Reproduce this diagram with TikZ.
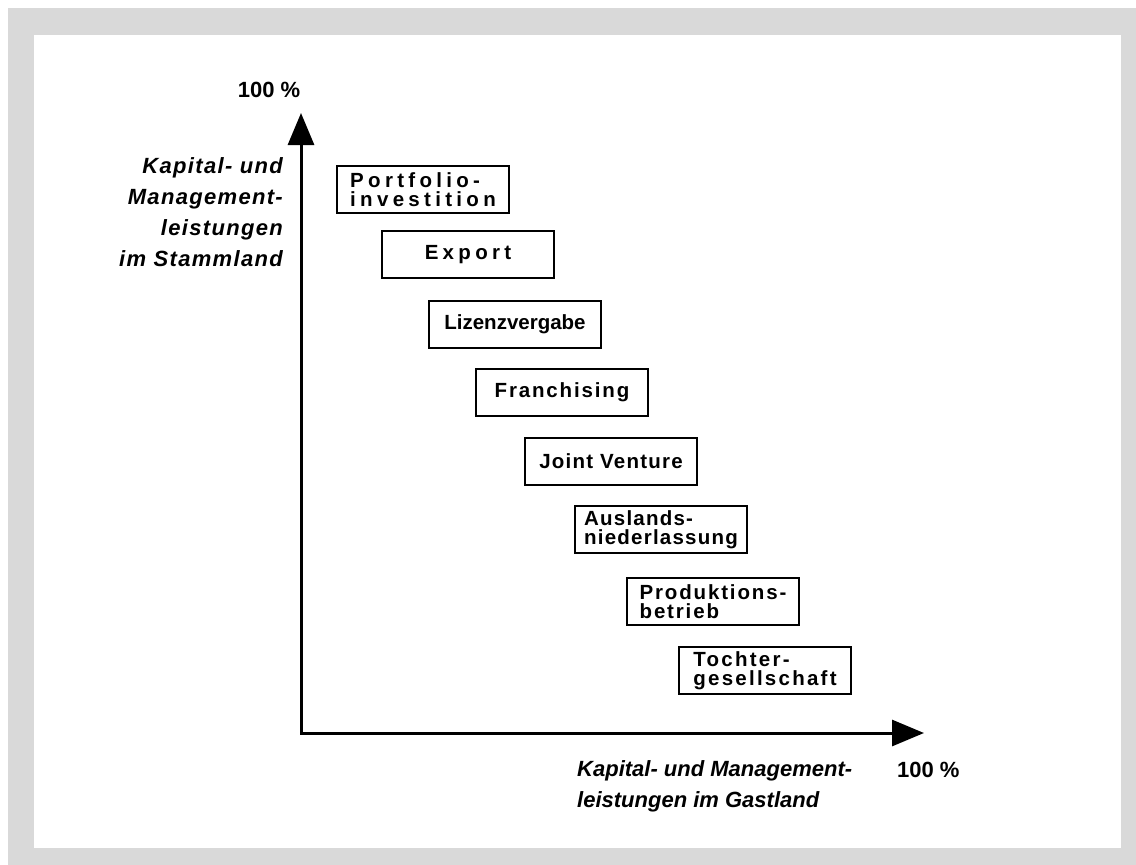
\documentclass[tikz,border=0pt]{standalone}
\usepackage{fontspec}
\setmainfont{Liberation Sans}
\newfontfamily\trackwide[LetterSpace=21]{Liberation Sans}
\newfontfamily\trackhigh[LetterSpace=11]{Liberation Sans}
\newfontfamily\trackmid[LetterSpace=9]{Liberation Sans}
\newfontfamily\tracklow[LetterSpace=6]{Liberation Sans}
\usetikzlibrary{arrows.meta}
\definecolor{framegray}{RGB}{217,217,217}
\newcommand\boxfont{\bfseries\fontsize{20.5}{19.5}\selectfont}

\begin{document}
\begin{tikzpicture}[
x=1pt, y=-1pt,
formbox/.style={
  draw,
  line width=2pt,
  minimum width=172pt,
  minimum height=47pt,
  inner sep=0pt,
  anchor=north west,
  align=left
  },
axislabel/.style={
  inner sep=0pt,
  font=\bfseries\itshape\fontsize{22}{31}\selectfont
  },
pctlabel/.style={
  inner sep=0pt,
  font=\bfseries\fontsize{22}{26}\selectfont
  },
axisline/.style={
  line width=3pt,
  >={Triangle[length=32pt,width=26pt]},
  <->
  }
]
\useasboundingbox (0,0) rectangle (1136,865);
\fill[framegray] (8,8) rectangle (1136,865);
\fill[white] (34,35) rectangle (1121,848);

% axes
\coordinate (origin) at (301,733);
\coordinate (ytip) at (301,113);
\coordinate (xtip) at (924,733);
\draw[axisline] (ytip) -- (origin) -- (xtip);

\node[axislabel, anchor=north east, align=right,
  font=\tracklow\bfseries\itshape\fontsize{22}{31}\selectfont] (ylabel) at (283,157)
  {Kapital- und\\Management-\\leistungen\\im Stammland};
\node[pctlabel, anchor=base] (ymax) at (269,97) {100 \%};
\node[axislabel, anchor=north west, align=left] (xlabel) at (577,760)
  {Kapital- und Management-\\leistungen im Gastland};
\node[pctlabel, anchor=base west] (xmax) at (897,777) {100 \%};

% forms of engagement
\foreach \Name/\X/\Y/\Fam/\Text in {
  portfolio/336/165/\trackwide/{Portfolio-\\investition},
  export/381/230/\trackwide/{Export},
  lizenz/428/300/\rmfamily/{Lizenzvergabe},
  franchise/475/368/\trackmid/{Franchising},
  joint/524/437/\tracklow/{Joint Venture},
  ausland/574/505/\tracklow/{Auslands-\\niederlassung},
  produktion/626/577/\trackmid/{Produktions-\\betrieb},
  tochter/678/646/\trackhigh/{Tochter-\\gesellschaft}}
  \node[formbox, font={\Fam\boxfont}] (\Name) at (\X,\Y) {\Text};
\end{tikzpicture}
\end{document}
